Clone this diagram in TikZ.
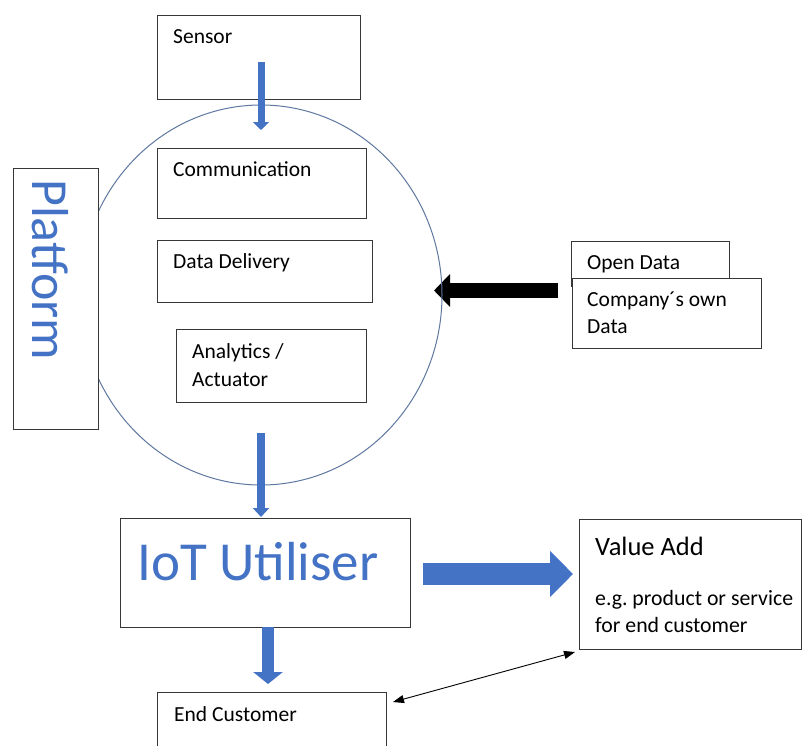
\documentclass[tikz,border=0pt]{standalone}
\usepackage{fontspec}
\setmainfont{Carlito}
\usetikzlibrary{arrows.meta,shapes.geometric}
\definecolor{obl}{HTML}{4472C4}
\definecolor{ellc}{RGB}{95,120,160}
\definecolor{boxc}{RGB}{55,55,55}
\frenchspacing
\begin{document}
\begin{tikzpicture}[x=1pt,y=-1pt,
  box/.style={draw=boxc, line width=1pt, fill=white, rectangle, inner sep=0pt, outer sep=0pt, anchor=north west},
  txt/.style={anchor=base west, inner sep=0pt, font=\fontsize{21.5}{27}\selectfont},
  bigtxt/.style={anchor=base west, inner sep=0pt, text=obl},
]
\clip (0,0) rectangle (802,745);
\fill[white] (0,0) rectangle (802,745);

% black arrow into the platform
\coordinate (bA) at (558,290.5);
\coordinate (bB) at (434,290.5);
\draw[line width=15pt, -{Triangle[width=32pt,length=16pt]}] (bA) -- (bB);

% platform ellipse
\node[draw=ellc, line width=1pt, ellipse, minimum width=362pt, minimum height=380pt, inner sep=0pt] (plat) at (261,295) {};

% boxes
\node[box, minimum width=85pt,  minimum height=261pt] (platform) at (13,168) {};
\node[box, minimum width=203pt, minimum height=84pt]  (sensor)   at (157,15) {};
\node[box, minimum width=209pt, minimum height=70pt]  (comm)     at (157,148) {};
\node[box, minimum width=215pt, minimum height=62pt]  (deliv)    at (157,240) {};
\node[box, minimum width=190pt, minimum height=73pt]  (analyt)   at (176,329) {};
\node[box, minimum width=158pt, minimum height=45pt]  (opendata) at (571,241) {};
\node[box, minimum width=189pt, minimum height=70pt]  (owndata)  at (572,278) {};
\node[box, minimum width=290pt, minimum height=109pt] (iot)      at (120,518) {};
\node[box, minimum width=222pt, minimum height=130pt] (value)    at (579,519) {};
\node[box, minimum width=229pt, minimum height=80pt]  (endc)     at (157,692) {};

% texts
\node[txt] (tSensor) at (173,43) {Sensor};
\node[txt] (tComm) at (173,176) {Communication};
\node[txt] (tDeliv) at (173,268) {Data Delivery};
\node[txt] (tAn1) at (192,358) {Analytics /};
\node[txt] (tAn2) at (192,386) {Actuator};
\node[txt] (tOpen) at (587,269) {Open Data};
\node[txt] (tOwn1) at (587,306) {Company´s own};
\node[txt] (tOwn2) at (587,333) {Data};
\node[txt, font=\fontsize{26.5}{30}\selectfont] (tValue) at (595,555) {Value Add};
\node[txt, font=\fontsize{21.8}{27}\selectfont] (tVal1) at (595,605) {e.g. product or service};
\node[txt, font=\fontsize{21.8}{27}\selectfont] (tVal2) at (595,632) {for end customer};
\node[txt] (tEnd) at (174,721) {End Customer};
\node[bigtxt, font=\fontsize{55}{60}\selectfont] (tIoT) at (137,580) {IoT Utiliser};
\node[bigtxt, font=\fontsize{52}{60}\selectfont, rotate=-90] (tPlat) at (32,179) {Platform};

% blue arrows
\coordinate (a1s) at (261,62);
\coordinate (a1e) at (261,130);
\draw[obl, line width=7pt, -{Triangle[width=16pt,length=8pt]}] (a1s) -- (a1e);
\coordinate (a2s) at (261,433);
\coordinate (a2e) at (261,517);
\draw[obl, line width=8pt, -{Triangle[width=16pt,length=9pt]}] (a2s) -- (a2e);
\coordinate (a3s) at (268,627);
\coordinate (a3e) at (268,684);
\draw[obl, line width=12pt, -{Triangle[width=29pt,length=12pt]}] (a3s) -- (a3e);
\coordinate (a4s) at (423,574);
\coordinate (a4e) at (573,574);
\draw[obl, line width=22pt, -{Triangle[width=45pt,length=23pt]}] (a4s) -- (a4e);

% thin double arrow
\coordinate (dA) at (393,702);
\coordinate (dB) at (575,652);
\draw[line width=0.9pt, {Triangle[width=8pt,length=11pt]}-{Triangle[width=8pt,length=11pt]}] (dA) -- (dB);
\end{tikzpicture}
\end{document}
